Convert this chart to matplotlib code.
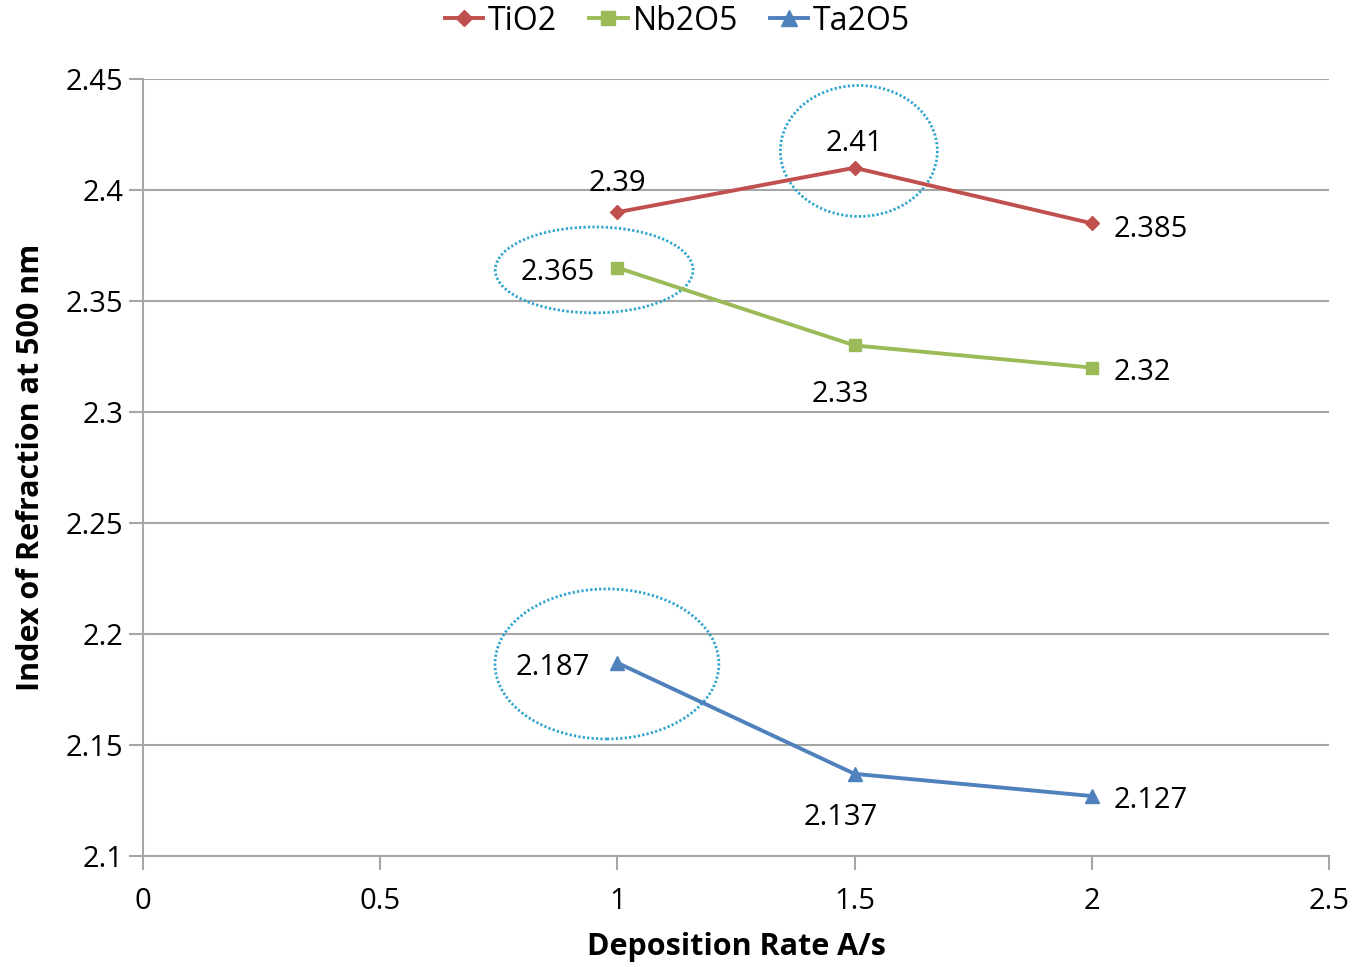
import matplotlib
matplotlib.use("Agg")
import matplotlib.pyplot as plt
from matplotlib.patches import Ellipse

plt.rcParams['font.family'] = ['Open Sans', 'DejaVu Sans']

# deposition rate (A/s) and refractive index at 500 nm
rate = [1, 1.5, 2]
tio2 = [2.39, 2.41, 2.385]
nb2o5 = [2.365, 2.33, 2.32]
ta2o5 = [2.187, 2.137, 2.127]

xticks = [0, 0.5, 1, 1.5, 2, 2.5]
yticks = [2.1, 2.15, 2.2, 2.25, 2.3, 2.35, 2.4, 2.45]

fig = plt.figure(figsize=(13.55, 9.67), dpi=100)
ax = fig.add_axes([0.1055, 0.1148, 0.8753, 0.8035])

grid_c = '#a6a6a6'
series = [
    ('TiO2', tio2, '#c0504d', 'D', 7),
    ('Nb2O5', nb2o5, '#9bbb59', 's', 9),
    ('Ta2O5', ta2o5, '#4f81bd', '^', 10),
]
for name, vals, c, m, ms in series:
    ax.plot(rate, vals, color=c, lw=2.8, marker=m, ms=ms, label=name)

# value labels: (dx, dy) offsets in points from each point
offsets = {
    'TiO2': [(0, 23, 'center'), (0, 20, 'center'), (16, -2, 'left')],
    'Nb2O5': [(-16, -1, 'right'), (-10, -33, 'center'), (16, -1, 'left')],
    'Ta2O5': [(-20, -1, 'right'), (-10, -29, 'center'), (16, -1, 'left')],
}
for name, vals, c, m, ms in series:
    for x, y, (dx, dy, ha) in zip(rate, vals, offsets[name]):
        ax.annotate(f'{y:g}', (x, y), xytext=(dx, dy), textcoords='offset points',
                    ha=ha, va='center_baseline', fontsize=21)

# highlight rings around the selected values
rings = [(1.509, 2.4176, 0.331, 0.059),
         (0.951, 2.364, 0.417, 0.0387),
         (0.978, 2.1865, 0.472, 0.0676)]
for cx, cy, w, h in rings:
    ax.add_patch(Ellipse((cx, cy), w, h, fill=False, ec='#2ea4d0', lw=2.0,
                         ls=(0, (0.8, 0.8))))

ax.set_xlim(0, 2.5)
ax.set_ylim(2.1, 2.45)
ax.set_xticks(xticks)
ax.set_xticklabels([f'{t:g}' for t in xticks])
ax.set_yticks(yticks)
ax.set_yticklabels([f'{t:g}' for t in yticks])
ax.tick_params(labelsize=21, colors=grid_c, labelcolor='black', length=10, width=1.5)
ax.tick_params(axis='x', pad=12)
ax.tick_params(axis='y', pad=4)
ax.yaxis.grid(True, color=grid_c, lw=1.5)
ax.set_axisbelow(True)
for s in ['top', 'right']:
    ax.spines[s].set_visible(False)
for s in ['left', 'bottom']:
    ax.spines[s].set_color(grid_c)
    ax.spines[s].set_linewidth(1.5)

ax.set_xlabel('Deposition Rate A/s', fontsize=22, fontweight='bold', labelpad=12)
ax.set_ylabel('Index of Refraction at 500 nm', fontsize=22, fontweight='bold', labelpad=14)

fig.legend(loc='upper center', bbox_to_anchor=(0.5, 1.025), ncol=3, frameon=False,
           fontsize=23, handlelength=1.2, handletextpad=0.15, columnspacing=1.0,
           markerscale=1.1)

fig.savefig('out.png', dpi=100)
